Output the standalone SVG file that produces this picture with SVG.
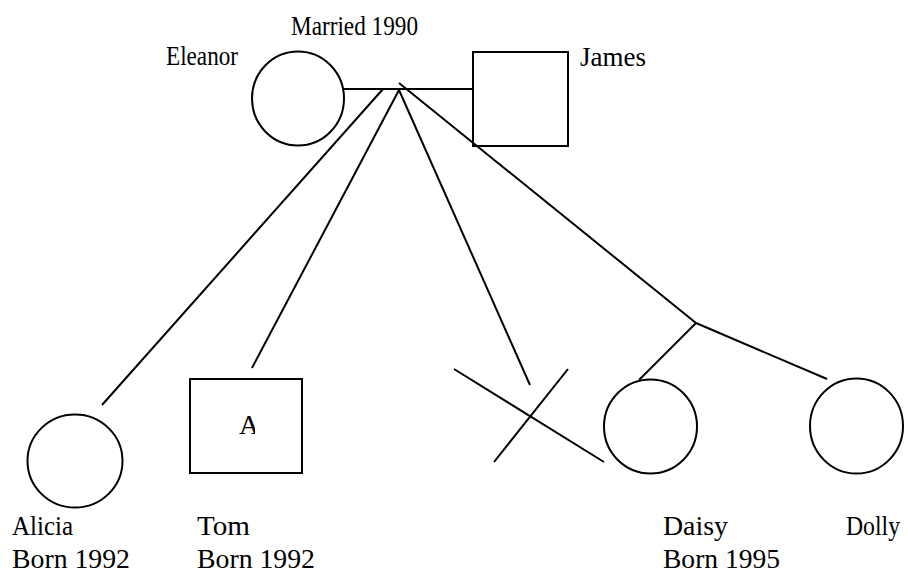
<svg xmlns="http://www.w3.org/2000/svg" width="908" height="577" viewBox="0 0 908 577">
<style>
.s{fill:none;stroke:#000;stroke-width:2}
.t{font-family:"Liberation Serif","Times New Roman",serif;font-size:28px;fill:#000}
</style>
<defs>
<clipPath id="clipA"><rect x="230" y="400" width="25" height="50"/></clipPath>
</defs>
<rect width="908" height="577" fill="#fff"/>
<g id="connectors" class="s">
<line x1="344" y1="89" x2="473" y2="89"/>
<line x1="383" y1="89" x2="102" y2="405"/>
<line x1="399" y1="90" x2="252" y2="368"/>
<line x1="399" y1="90" x2="530" y2="385"/>
<line x1="399" y1="83" x2="696" y2="323"/>
<line x1="696" y1="323" x2="639" y2="380"/>
<line x1="696" y1="323" x2="827" y2="379"/>
</g>
<g id="eleanor">
<ellipse class="s" cx="298" cy="98.5" rx="46" ry="47"/>
<text class="t" x="166" y="65" textLength="72" lengthAdjust="spacingAndGlyphs">Eleanor</text>
</g>
<g id="marriage">
<text class="t" x="291" y="35" textLength="127" lengthAdjust="spacingAndGlyphs">Married 1990</text>
</g>
<g id="james">
<rect class="s" x="473" y="52" width="95" height="94"/>
<text class="t" x="580" y="66" textLength="66" lengthAdjust="spacingAndGlyphs">James</text>
</g>
<g id="alicia">
<ellipse class="s" cx="75" cy="461" rx="47.5" ry="46.5"/>
<text class="t" x="12" y="535" textLength="61" lengthAdjust="spacingAndGlyphs">Alicia</text>
<text class="t" x="12" y="568" textLength="118" lengthAdjust="spacingAndGlyphs">Born 1992</text>
</g>
<g id="tom">
<rect class="s" x="190" y="379" width="112" height="94"/>
<text class="t" x="239" y="434" clip-path="url(#clipA)">A</text>
<text class="t" x="197" y="535" textLength="53" lengthAdjust="spacingAndGlyphs">Tom</text>
<text class="t" x="197" y="568" textLength="118" lengthAdjust="spacingAndGlyphs">Born 1992</text>
</g>
<g id="deceased">
<line class="s" x1="454" y1="369" x2="604" y2="462"/>
<line class="s" x1="568" y1="369" x2="494" y2="462"/>
</g>
<g id="daisy">
<ellipse class="s" cx="650.5" cy="426.5" rx="46.5" ry="47"/>
<text class="t" x="663" y="535" textLength="65" lengthAdjust="spacingAndGlyphs">Daisy</text>
<text class="t" x="663" y="568" textLength="117" lengthAdjust="spacingAndGlyphs">Born 1995</text>
</g>
<g id="dolly">
<ellipse class="s" cx="856.5" cy="426" rx="46.5" ry="47.5"/>
<text class="t" x="846" y="535" textLength="54" lengthAdjust="spacingAndGlyphs">Dolly</text>
</g>
</svg>
